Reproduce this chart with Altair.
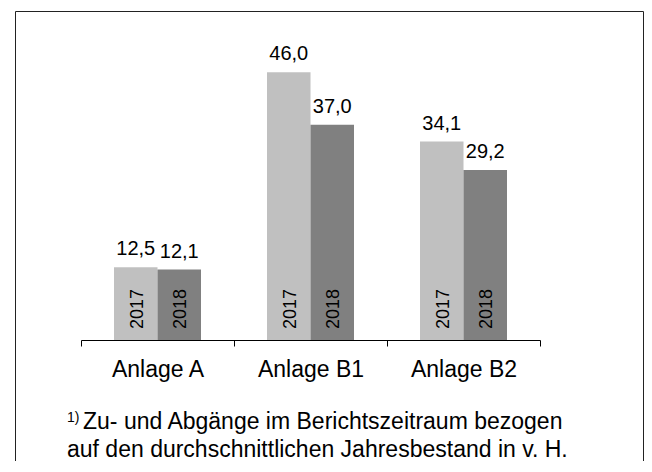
import altair as alt
import pandas as pd

# ---- data ----
categories = ["Anlage A", "Anlage B1", "Anlage B2"]
years = ["2017", "2018"]
values_2017 = [12.5, 46.0, 34.1]
values_2018 = [12.1, 37.0, 29.2]
footnote_mark = "1)"
footnote_line1 = "Zu- und Abgänge im Berichtszeitraum bezogen"
footnote_line2 = "auf den durchschnittlichen Jahresbestand in v. H."

rows = []
for c, a, b in zip(categories, values_2017, values_2018):
    rows.append({"Anlage": c, "Jahr": years[0], "Wert": a})
    rows.append({"Anlage": c, "Jahr": years[1], "Wert": b})
df = pd.DataFrame(rows)
df["Label"] = df["Wert"].map(lambda v: f"{v:.1f}".replace(".", ","))

FONT = "Liberation Sans"
W, H = 629, 444
BASE_Y = 329

x_enc = alt.X(
    "Anlage:N",
    sort=categories,
    scale=alt.Scale(range=[66, 525], paddingInner=0, paddingOuter=0),
    axis=alt.Axis(
        title=None, orient="bottom", offset=BASE_Y - H,
        domainColor="#000000", domainWidth=1,
        tickColor="#000000", tickSize=6, tickWidth=1, tickBand="extent",
        labelAngle=0, labelFont=FONT, labelFontSize=23, labelColor="#000000",
        labelBaseline="alphabetic", labelPadding=30, grid=False,
    ),
)
xo_enc = alt.XOffset("Jahr:N", sort=years,
                     scale=alt.Scale(paddingInner=0, paddingOuter=0.7586))
y_scale = alt.Scale(domain=[0, 50], range=[BASE_Y, 38], nice=False)
y_enc = alt.Y("Wert:Q", scale=y_scale, axis=None)
color_enc = alt.Color("Jahr:N", scale=alt.Scale(domain=years, range=["#c0c0c0", "#808080"]),
                      legend=None)

base = alt.Chart(df)

bars = base.mark_bar().encode(x=x_enc, xOffset=xo_enc, y=y_enc, color=color_enc)

value_labels = base.mark_text(
    font=FONT, fontSize=20, baseline="alphabetic", align="center", dy=-12, color="#000000"
).encode(x=x_enc, xOffset=xo_enc, y=y_enc, text="Label:N")

year_labels = base.mark_text(
    font=FONT, fontSize=18, angle=270, align="left", baseline="middle",
    dx=11, dy=2, color="#000000"
).encode(x=x_enc, xOffset=xo_enc, y=alt.Y(datum=0, scale=y_scale, axis=None), text="Jahr:N")

one = alt.Chart(pd.DataFrame({"k": [0]}))
frame_color = "#222222"
FRAME_BOTTOM = H + 6
frame_left = one.mark_rule(color=frame_color, strokeWidth=1).encode(
    x=alt.value(0.5), y=alt.value(0.5), y2=alt.value(FRAME_BOTTOM))
frame_right = one.mark_rule(color=frame_color, strokeWidth=1).encode(
    x=alt.value(W - 0.5), y=alt.value(0.5), y2=alt.value(FRAME_BOTTOM))
frame_top = one.mark_rule(color=frame_color, strokeWidth=1).encode(
    x=alt.value(0.5), x2=alt.value(W - 0.5), y=alt.value(0.5))

fn_mark = one.mark_text(font=FONT, fontSize=14, align="left", baseline="alphabetic",
                        color="#000000").encode(
    x=alt.value(52), y=alt.value(411), text=alt.value(footnote_mark))
fn_l1 = one.mark_text(font=FONT, fontSize=23, align="left", baseline="alphabetic",
                      color="#000000").encode(
    x=alt.value(68), y=alt.value(417.5), text=alt.value(footnote_line1))
fn_l2 = one.mark_text(font=FONT, fontSize=23, align="left", baseline="alphabetic",
                      color="#000000").encode(
    x=alt.value(52), y=alt.value(445.5), text=alt.value(footnote_line2))

chart = alt.layer(
    bars, value_labels, year_labels,
    frame_left, frame_right, frame_top,
    fn_mark, fn_l1, fn_l2,
).properties(
    width=W, height=H,
    padding={"left": 7, "top": 3, "right": 0, "bottom": 0},
    background="#ffffff",
).configure_view(stroke=None)

chart.save("out.html", embed_options={"renderer": "svg", "actions": False})
